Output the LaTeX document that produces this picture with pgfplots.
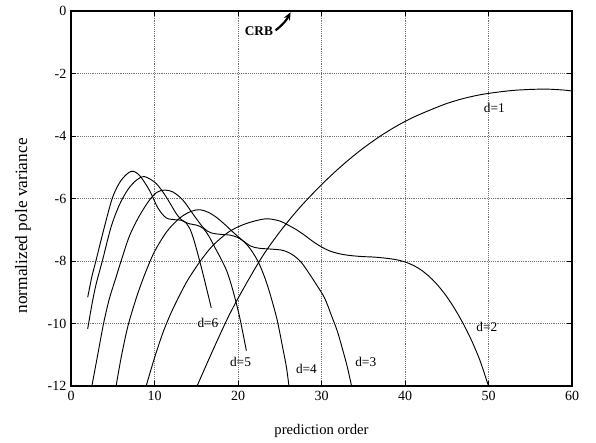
\documentclass[border=0pt]{standalone}
\usepackage{fontspec}
\setmainfont{Liberation Serif}
\usepackage{pgfplots}
\pgfplotsset{compat=1.18}
\usetikzlibrary{arrows.meta}
\tikzset{curve/.style={black, line width=0.7pt, smooth, tension=0.5, mark=none}}

\begin{document}
\begin{tikzpicture}
\begin{axis}[
  scale only axis,
  width=375.75pt, height=281.25pt,
  xmin=0, xmax=60, ymin=-12, ymax=0,
  xtick={0,10,...,60}, ytick={-12,-10,...,0},
  grid=major,
  grid style={densely dotted, black!55, line width=0.4pt},
  tick align=inside,
  major tick length=4pt,
  axis line style={line width=0.8pt},
  tick style={black, line width=0.6pt},
  every tick label/.append style={font=\fontsize{10.5}{12}\selectfont},
  /pgf/number format/assume math mode=true,
  xlabel={prediction order},
  ylabel={normalized pole variance},
  xlabel style={at={(axis description cs:0.5,-0.12)}, anchor=center, font=\fontsize{11}{13}\selectfont},
  ylabel style={at={(axis description cs:-0.096,0.427)}, anchor=center, font=\fontsize{13}{15}\selectfont},
]
% d=1
\addplot[curve] coordinates {
  (15.1,-12) (17,-10.85) (19,-9.7) (21,-8.72) (23,-7.82) (25,-7.07) (27,-6.41)
  (29,-5.83) (31,-5.30) (33,-4.82) (35,-4.39) (37,-4.01) (39,-3.68) (41,-3.40)
  (43,-3.17) (45,-2.96) (47,-2.80) (49,-2.68) (51,-2.60) (53,-2.54) (55,-2.51)
  (57,-2.50) (59,-2.53) (60,-2.56)
};
% d=2
\addplot[curve] coordinates {
  (9.0,-12) (10,-11.1) (11,-10.3) (12,-9.65) (13,-9.1) (14,-8.6) (15.5,-8.0)
  (17,-7.5) (19,-7.05) (21,-6.8) (23.3,-6.65) (25,-6.72) (26,-6.85) (27,-7.0)
  (28,-7.18) (29,-7.38) (30,-7.55) (31,-7.68) (32,-7.76) (33,-7.81) (34,-7.84)
  (35,-7.86) (36,-7.87) (37,-7.89) (38,-7.92) (39,-7.96) (40,-8.03) (41,-8.14)
  (42,-8.3) (43,-8.52) (44,-8.8) (45,-9.14) (46,-9.55) (47,-10.02) (48,-10.56)
  (49,-11.2) (50,-12)
};
% d=3
\addplot[curve] coordinates {
  (5.4,-12) (6.0,-11.1) (6.8,-10.1) (7.8,-9.2) (8.8,-8.45) (10,-7.7) (11.5,-7.05)
  (13,-6.63) (14.3,-6.42) (15.4,-6.36) (16.5,-6.45) (17.5,-6.62) (18.5,-6.85)
  (19.5,-7.1) (20.5,-7.33) (21.5,-7.52) (22.5,-7.59) (24,-7.62) (25.2,-7.65)
  (26,-7.72) (26.8,-7.85) (27.6,-8.05) (28.4,-8.35) (29.5,-8.8) (30.4,-9.2)
  (31.2,-9.75) (31.9,-10.25) (32.6,-10.9) (33.1,-11.4) (33.6,-12)
};
% d=4
\addplot[curve] coordinates {
  (2.5,-12) (3.2,-11) (3.9,-10) (4.6,-9.2) (5.3,-8.6) (6.0,-8.0) (7.0,-7.2)
  (8.2,-6.55) (9.4,-6.05) (10.3,-5.8) (11.2,-5.73) (12.2,-5.79) (13.4,-6.05)
  (14.7,-6.53) (15.9,-6.95) (16.8,-7.1) (18,-7.15) (19,-7.17) (20,-7.25)
  (20.9,-7.43) (21.7,-7.7) (22.5,-8.07) (23.3,-8.6) (24.0,-9.2) (24.7,-9.9)
  (25.3,-10.7) (25.8,-11.4) (26.1,-12)
};
% d=5
\addplot[curve] coordinates {
  (2.0,-10.17) (2.5,-9.4) (3.0,-8.75) (3.8,-7.95) (4.8,-6.91) (5.8,-6.2)
  (6.8,-5.72) (7.8,-5.42) (8.8,-5.3) (10.2,-5.52) (11.4,-5.95) (12.6,-6.48)
  (13.4,-6.72) (14.2,-6.81) (15,-6.85) (15.8,-6.95) (16.5,-7.2) (17.3,-7.6)
  (18,-7.95) (18.7,-8.35) (19.4,-8.95) (20.2,-9.8) (21,-10.87)
};
% d=6
\addplot[curve] coordinates {
  (2.0,-9.16) (2.5,-8.5) (3.0,-7.98) (4.0,-6.91) (5.0,-5.95) (6.0,-5.42)
  (7.2,-5.13) (8.2,-5.26) (9.4,-5.74) (10.4,-6.3) (11.4,-6.62) (12.5,-6.68)
  (13.5,-6.72) (14.2,-6.95) (14.8,-7.4) (15.7,-8.3) (16.8,-9.5)
};
\node at (axis cs:50.7,-3.11) {d=1};
\node at (axis cs:49.8,-10.12) {d=2};
\node at (axis cs:35.3,-11.24) {d=3};
\node at (axis cs:28.2,-11.45) {d=4};
\node at (axis cs:20.3,-11.24) {d=5};
\node at (axis cs:16.4,-9.98) {d=6};
\node[font=\bfseries] at (axis cs:22.5,-0.66) {CRB};
\draw[-{Stealth[length=6pt,width=5pt]}, line width=1.6pt] (axis cs:24.5,-0.62) to[bend right=12] (axis cs:26.3,-0.04);
\coordinate (SW) at (rel axis cs:0,0);
\coordinate (NE) at (rel axis cs:1,1);
\end{axis}
\pgfresetboundingbox
\path[use as bounding box] ([xshift=-53.25pt,yshift=-42pt]SW) rectangle ([xshift=18pt,yshift=8.25pt]NE);
\end{tikzpicture}
\end{document}
